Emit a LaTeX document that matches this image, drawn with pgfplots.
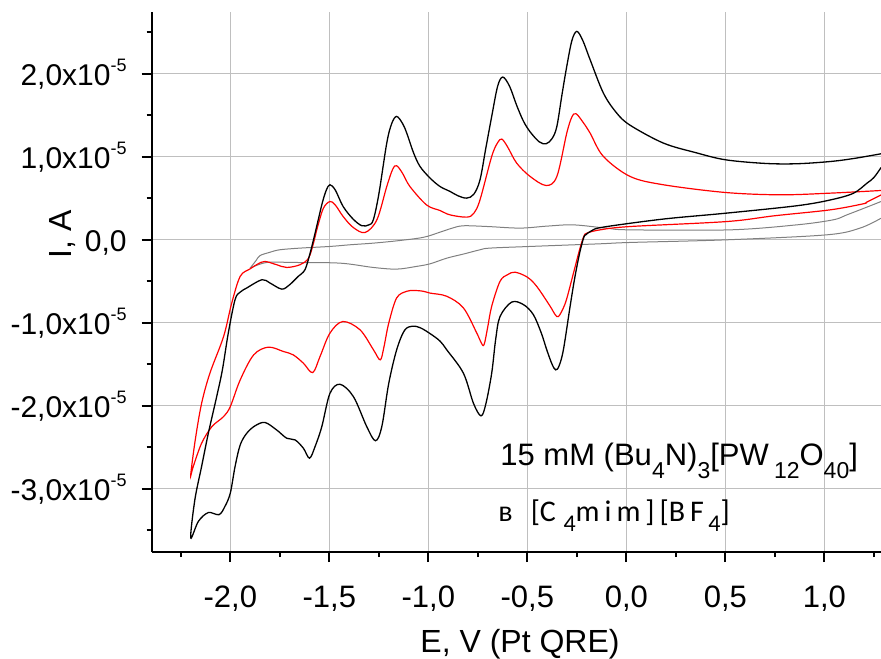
\documentclass[border=0pt]{standalone}
\usepackage{pgfplots}
\pgfplotsset{compat=1.18}
\usepackage{fontspec}
\setmainfont{Liberation Sans}
\newfontfamily\carlito{Carlito}
\usepackage{graphicx}
\newcommand{\ylab}[1]{#1,0x10\raisebox{7pt}{\fontsize{9}{9}\selectfont -5}}
\newcommand{\subA}[1]{\raisebox{-6.5pt}{\fontsize{11.5}{11.5}\selectfont #1}}
\newcommand{\subB}[1]{\raisebox{-5pt}{\fontsize{12}{12}\selectfont #1}}
\begin{document}
\begin{tikzpicture}
\begin{axis}[
  at={(0,0)}, anchor=south west,
  width=364.65pt, height=269.85pt, scale only axis,
  xmin=-2.397, xmax=1.286, ymin=-3.76, ymax=2.74,
  axis x line=bottom, axis y line=left,
  axis line style={-, line width=1pt},
  tick align=outside,
  major tick length=5pt, minor tick length=2.5pt,
  tick style={line width=1pt, black},
  xtick={-2,-1.5,-1,-0.5,0,0.5,1},
  xticklabels={{-2,0},{-1,5},{-1,0},{-0,5},{0,0},{0,5},{1,0}},
  minor xtick={-2.25,-1.75,-1.25,-0.75,-0.25,0.25,0.75,1.25},
  ytick={-3,-2,-1,0,1,2},
  yticklabels={{\ylab{-3}},{\ylab{-2}},{\ylab{-1}},{0,0},{\ylab{1}},{\ylab{2}}},
  minor ytick={-3.5,-2.5,-1.5,-0.5,0.5,1.5,2.5},
  grid=major, major grid style={line width=0.5pt, color=black!25},
  xticklabel style={anchor=base, inner sep=0pt, yshift=-22.85pt, font=\fontsize{15.5}{15.5}\selectfont},
  yticklabel style={anchor=base east, inner sep=0pt, xshift=-7.35pt, yshift=-5.7pt, font=\fontsize{15}{15}\selectfont},
  xlabel={E, V (Pt QRE)},
  xlabel style={at={(axis description cs:0.505,-0.1853)}, anchor=base, inner sep=0pt, font=\fontsize{16}{16}\selectfont},
  ylabel={I, A},
  ylabel style={at={(axis description cs:-0.1216,0.589)}, anchor=center, inner sep=0pt, font=\fontsize{16}{16}\selectfont},
  every axis plot/.append style={smooth, tension=0.55},
]
% gray background CV
\addplot[color=black!50, line width=0.5pt] coordinates {
(-1.90,-0.341) (-1.87,-0.25) (-1.85,-0.19) (-1.80,-0.15) (-1.75,-0.12) (-1.648,-0.10)
(-1.497,-0.08) (-1.396,-0.06) (-1.278,-0.04) (-1.15,-0.01) (-1.025,0.03) (-0.941,0.092)
(-0.88,0.14) (-0.823,0.169) (-0.7,0.16) (-0.537,0.141) (-0.4,0.165) (-0.267,0.18)
(-0.1,0.14) (0.019,0.12) (0.524,0.12) (0.86,0.18) (1.045,0.241) (1.113,0.30) (1.2,0.38) (1.286,0.461)
};
\addplot[color=black!50, line width=0.5pt] coordinates {
(1.286,0.26) (1.18,0.141) (1.012,0.06) (0.507,0.0) (0.019,-0.032) (-0.133,-0.048)
(-0.486,-0.08) (-0.689,-0.1) (-0.739,-0.12) (-0.82,-0.17) (-0.907,-0.221) (-0.991,-0.289)
(-1.059,-0.32) (-1.16,-0.353) (-1.278,-0.333) (-1.446,-0.281) (-1.68,-0.273) (-1.816,-0.273) (-1.90,-0.341)
};
% red CV
\addplot[color=red, line width=0.6pt] coordinates {
(1.286,0.54) (1.214,0.454) (1.197,0.434) (1.03,0.361) (0.75,0.29) (0.507,0.22) (0.019,0.16)
(-0.133,0.12) (-0.2,0.08) (-0.215,0.04) (-0.234,-0.1) (-0.267,-0.40) (-0.30,-0.70) (-0.318,-0.82)
(-0.343,-0.924) (-0.36,-0.9) (-0.385,-0.80) (-0.452,-0.563) (-0.50,-0.45) (-0.562,-0.39)
(-0.60,-0.42) (-0.638,-0.50) (-0.68,-0.80) (-0.70,-1.05) (-0.719,-1.265) (-0.735,-1.23)
(-0.756,-1.12) (-0.823,-0.82) (-0.907,-0.68) (-0.991,-0.642) (-1.025,-0.62) (-1.07,-0.61)
(-1.109,-0.62) (-1.16,-0.70) (-1.20,-1.004) (-1.225,-1.30) (-1.243,-1.446) (-1.277,-1.325)
(-1.345,-1.084) (-1.432,-0.984) (-1.497,-1.124) (-1.547,-1.406) (-1.584,-1.599) (-1.631,-1.486)
(-1.682,-1.386) (-1.732,-1.345) (-1.808,-1.293) (-1.882,-1.386) (-1.95,-1.687) (-2.0,-2.008)
(-2.034,-2.129) (-2.093,-2.25) (-2.145,-2.45) (-2.187,-2.73) (-2.2,-2.83)
(-2.177,-2.41) (-2.145,-1.97) (-2.103,-1.606) (-2.034,-1.165) (-1.993,-0.763) (-1.95,-0.44)
(-1.90,-0.35) (-1.86,-0.29) (-1.824,-0.261) (-1.766,-0.30) (-1.715,-0.333) (-1.648,-0.30)
(-1.605,-0.221) (-1.58,-0.04) (-1.56,0.15) (-1.53,0.38) (-1.497,0.461) (-1.47,0.42)
(-1.43,0.28) (-1.38,0.15) (-1.32,0.088) (-1.26,0.24) (-1.21,0.642) (-1.18,0.85) (-1.16,0.892)
(-1.13,0.8) (-1.093,0.642) (-1.009,0.42) (-0.941,0.353) (-0.89,0.30) (-0.806,0.273)
(-0.77,0.32) (-0.739,0.482) (-0.68,1.004) (-0.65,1.17) (-0.629,1.213) (-0.6,1.12)
(-0.554,0.924) (-0.486,0.763) (-0.405,0.654) (-0.351,0.763) (-0.301,1.285) (-0.275,1.48)
(-0.254,1.518) (-0.22,1.42) (-0.183,1.285) (-0.116,1.004) (0.019,0.763) (0.187,0.663)
(0.5,0.57) (0.776,0.542) (1.03,0.562) (1.286,0.594)
};
% black CV
\addplot[color=black, line width=0.65pt] coordinates {
(1.286,0.87) (1.25,0.75) (1.214,0.68) (1.146,0.56) (1.03,0.48) (0.86,0.41) (0.5,0.32)
(0.187,0.25) (-0.116,0.153) (-0.175,0.11) (-0.205,0.06) (-0.215,0.03) (-0.235,-0.15)
(-0.26,-0.45) (-0.284,-0.80) (-0.318,-1.325) (-0.34,-1.52) (-0.357,-1.566) (-0.375,-1.5)
(-0.402,-1.325) (-0.43,-1.12) (-0.47,-0.90) (-0.52,-0.78) (-0.579,-0.75) (-0.638,-0.924) (-0.66,-1.2)
(-0.68,-1.606) (-0.71,-1.98) (-0.734,-2.12) (-0.772,-1.97) (-0.823,-1.606) (-0.907,-1.325)
(-0.941,-1.22) (-0.991,-1.13) (-1.04,-1.06) (-1.08,-1.04) (-1.12,-1.09) (-1.16,-1.325) (-1.20,-1.73)
(-1.235,-2.25) (-1.267,-2.42) (-1.311,-2.25) (-1.378,-1.89) (-1.446,-1.74) (-1.497,-1.85)
(-1.538,-2.25) (-1.572,-2.49) (-1.60,-2.63) (-1.631,-2.51) (-1.673,-2.41) (-1.715,-2.39)
(-1.766,-2.29) (-1.825,-2.20) (-1.875,-2.24) (-1.917,-2.33) (-1.95,-2.47) (-1.976,-2.73)
(-2.0,-3.05) (-2.027,-3.21) (-2.057,-3.31) (-2.111,-3.285) (-2.161,-3.39) (-2.2,-3.59)
(-2.179,-3.13) (-2.145,-2.73) (-2.111,-2.33) (-2.069,-1.89) (-2.04,-1.566) (-2.01,-1.12)
(-1.976,-0.72) (-1.95,-0.63) (-1.917,-0.58) (-1.84,-0.48) (-1.80,-0.52) (-1.74,-0.594)
(-1.70,-0.54) (-1.657,-0.44) (-1.623,-0.36) (-1.597,-0.16) (-1.58,0.0) (-1.56,0.2)
(-1.535,0.45) (-1.515,0.60) (-1.497,0.663) (-1.47,0.6) (-1.43,0.40) (-1.38,0.25)
(-1.336,0.17) (-1.30,0.18) (-1.278,0.24) (-1.25,0.55) (-1.21,1.165) (-1.185,1.4)
(-1.16,1.486) (-1.13,1.4) (-1.109,1.285) (-1.075,1.05) (-1.042,0.883) (-0.991,0.743)
(-0.941,0.642) (-0.89,0.582) (-0.85,0.53) (-0.806,0.502) (-0.77,0.55) (-0.739,0.723)
(-0.71,1.1) (-0.68,1.486) (-0.65,1.85) (-0.624,1.96) (-0.59,1.85) (-0.554,1.62) (-0.52,1.43)
(-0.486,1.30) (-0.44,1.18) (-0.405,1.157) (-0.375,1.22) (-0.351,1.365) (-0.325,1.75)
(-0.301,2.088) (-0.275,2.40) (-0.25,2.51) (-0.22,2.40) (-0.183,2.169) (-0.116,1.767)
(-0.05,1.53) (0.019,1.38) (0.187,1.165) (0.35,1.05) (0.5,0.964) (0.7,0.92) (0.86,0.916)
(1.03,0.943) (1.15,0.98) (1.286,1.036)
};
\node[anchor=base west, inner sep=0pt, font=\fontsize{15.5}{15.5}\selectfont] at (axis cs:-0.638,-2.72)
  {15 mM (Bu\subA{4}N)\subA{3}[PW\,\subA{12}O\subA{40}]};
\node[anchor=base west, inner sep=0pt, font=\carlito\fontsize{15}{15}\selectfont] at (axis cs:-0.648,-3.39)
  {в\hspace{0.6em}[C\hspace{0.25em}\subB{4}m\,i\,m\,]\,[B\,F\hspace{0.15em}\subB{4}]};
\end{axis}
\pgfresetboundingbox
\useasboundingbox (-75.85pt,-53pt) rectangle (364.65pt,276pt);
\end{tikzpicture}
\end{document}
